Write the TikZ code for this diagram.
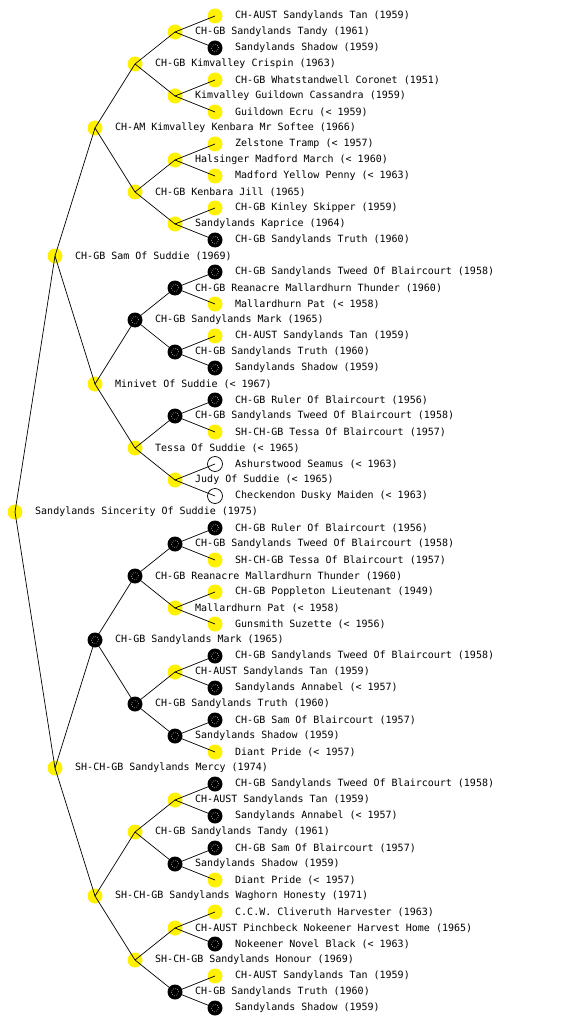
\documentclass[tikz,border=0pt]{standalone}
\usepackage{fontspec}
\setmonofont{DejaVu Sans Mono}
\tikzset{
  dot/.style={circle, minimum size=15pt, inner sep=0pt, outer sep=0pt},
  yel/.style={dot, fill=yellow},
  blk/.style={dot, fill=black, path picture={\draw[white, line width=0.6pt, dash pattern=on 0.6pt off 1.6pt] (path picture bounding box.center) circle (3.6pt);}},
  wht/.style={dot, draw=black, fill=white, line width=0.7pt},
  lbl/.style={anchor=west, inner sep=0pt, font=\ttfamily\fontsize{10}{12}\selectfont, text=black},
  edge/.style={draw=black, line width=0.7pt}
}
\newcommand\pednode[4]{%
  \node[#3] (n#1) at (#2,16*#1) {};
  \node[lbl] (t#1) at (#2+20,16*#1) {#4};}
\begin{document}
\begin{tikzpicture}[x=1pt,y=-1pt]
\useasboundingbox[fill=white] (0,0) rectangle (560,1024);
\pednode{1}{215}{yel}{CH-AUST Sandylands Tan (1959)}
\pednode{2}{175}{yel}{CH-GB Sandylands Tandy (1961)}
\pednode{3}{215}{blk}{Sandylands Shadow (1959)}
\pednode{4}{135}{yel}{CH-GB Kimvalley Crispin (1963)}
\pednode{5}{215}{yel}{CH-GB Whatstandwell Coronet (1951)}
\pednode{6}{175}{yel}{Kimvalley Guildown Cassandra (1959)}
\pednode{7}{215}{yel}{Guildown Ecru (< 1959)}
\pednode{8}{95}{yel}{CH-AM Kimvalley Kenbara Mr Softee (1966)}
\pednode{9}{215}{yel}{Zelstone Tramp (< 1957)}
\pednode{10}{175}{yel}{Halsinger Madford March (< 1960)}
\pednode{11}{215}{yel}{Madford Yellow Penny (< 1963)}
\pednode{12}{135}{yel}{CH-GB Kenbara Jill (1965)}
\pednode{13}{215}{yel}{CH-GB Kinley Skipper (1959)}
\pednode{14}{175}{yel}{Sandylands Kaprice (1964)}
\pednode{15}{215}{blk}{CH-GB Sandylands Truth (1960)}
\pednode{16}{55}{yel}{CH-GB Sam Of Suddie (1969)}
\pednode{17}{215}{blk}{CH-GB Sandylands Tweed Of Blaircourt (1958)}
\pednode{18}{175}{blk}{CH-GB Reanacre Mallardhurn Thunder (1960)}
\pednode{19}{215}{yel}{Mallardhurn Pat (< 1958)}
\pednode{20}{135}{blk}{CH-GB Sandylands Mark (1965)}
\pednode{21}{215}{yel}{CH-AUST Sandylands Tan (1959)}
\pednode{22}{175}{blk}{CH-GB Sandylands Truth (1960)}
\pednode{23}{215}{blk}{Sandylands Shadow (1959)}
\pednode{24}{95}{yel}{Minivet Of Suddie (< 1967)}
\pednode{25}{215}{blk}{CH-GB Ruler Of Blaircourt (1956)}
\pednode{26}{175}{blk}{CH-GB Sandylands Tweed Of Blaircourt (1958)}
\pednode{27}{215}{yel}{SH-CH-GB Tessa Of Blaircourt (1957)}
\pednode{28}{135}{yel}{Tessa Of Suddie (< 1965)}
\pednode{29}{215}{wht}{Ashurstwood Seamus (< 1963)}
\pednode{30}{175}{yel}{Judy Of Suddie (< 1965)}
\pednode{31}{215}{wht}{Checkendon Dusky Maiden (< 1963)}
\pednode{32}{15}{yel}{Sandylands Sincerity Of Suddie (1975)}
\pednode{33}{215}{blk}{CH-GB Ruler Of Blaircourt (1956)}
\pednode{34}{175}{blk}{CH-GB Sandylands Tweed Of Blaircourt (1958)}
\pednode{35}{215}{yel}{SH-CH-GB Tessa Of Blaircourt (1957)}
\pednode{36}{135}{blk}{CH-GB Reanacre Mallardhurn Thunder (1960)}
\pednode{37}{215}{yel}{CH-GB Poppleton Lieutenant (1949)}
\pednode{38}{175}{yel}{Mallardhurn Pat (< 1958)}
\pednode{39}{215}{yel}{Gunsmith Suzette (< 1956)}
\pednode{40}{95}{blk}{CH-GB Sandylands Mark (1965)}
\pednode{41}{215}{blk}{CH-GB Sandylands Tweed Of Blaircourt (1958)}
\pednode{42}{175}{yel}{CH-AUST Sandylands Tan (1959)}
\pednode{43}{215}{blk}{Sandylands Annabel (< 1957)}
\pednode{44}{135}{blk}{CH-GB Sandylands Truth (1960)}
\pednode{45}{215}{blk}{CH-GB Sam Of Blaircourt (1957)}
\pednode{46}{175}{blk}{Sandylands Shadow (1959)}
\pednode{47}{215}{yel}{Diant Pride (< 1957)}
\pednode{48}{55}{yel}{SH-CH-GB Sandylands Mercy (1974)}
\pednode{49}{215}{blk}{CH-GB Sandylands Tweed Of Blaircourt (1958)}
\pednode{50}{175}{yel}{CH-AUST Sandylands Tan (1959)}
\pednode{51}{215}{blk}{Sandylands Annabel (< 1957)}
\pednode{52}{135}{yel}{CH-GB Sandylands Tandy (1961)}
\pednode{53}{215}{blk}{CH-GB Sam Of Blaircourt (1957)}
\pednode{54}{175}{blk}{Sandylands Shadow (1959)}
\pednode{55}{215}{yel}{Diant Pride (< 1957)}
\pednode{56}{95}{yel}{SH-CH-GB Sandylands Waghorn Honesty (1971)}
\pednode{57}{215}{yel}{C.C.W. Cliveruth Harvester (1963)}
\pednode{58}{175}{yel}{CH-AUST Pinchbeck Nokeener Harvest Home (1965)}
\pednode{59}{215}{blk}{Nokeener Novel Black (< 1963)}
\pednode{60}{135}{yel}{SH-CH-GB Sandylands Honour (1969)}
\pednode{61}{215}{yel}{CH-AUST Sandylands Tan (1959)}
\pednode{62}{175}{blk}{CH-GB Sandylands Truth (1960)}
\pednode{63}{215}{blk}{Sandylands Shadow (1959)}
\foreach \h in {16,8,4,2,1} {
  \pgfmathtruncatemacro\kmax{16/\h-1}
  \foreach \k in {0,...,\kmax} {
    \pgfmathtruncatemacro\r{2*\h*(2*\k+1)}
    \pgfmathtruncatemacro\a{\r-\h}
    \pgfmathtruncatemacro\b{\r+\h}
    \draw[edge] (n\r.center) -- (n\a.center);
    \draw[edge] (n\r.center) -- (n\b.center);
  }
}
\end{tikzpicture}
\end{document}
